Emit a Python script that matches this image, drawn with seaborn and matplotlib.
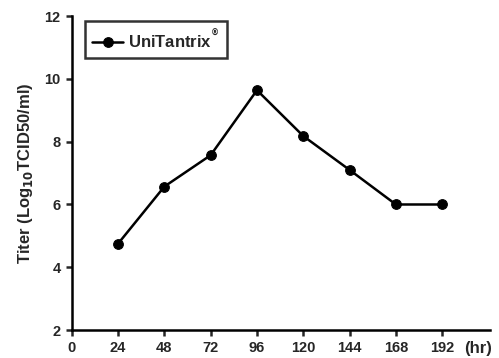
import matplotlib
matplotlib.use("Agg")
import matplotlib.pyplot as plt
import seaborn as sns
import pandas as pd

hours = [24, 48, 72, 96, 120, 144, 168, 192]
titer = [4.75, 6.57, 7.57, 9.64, 8.18, 7.1, 6.0, 6.0]
xticks = [0, 24, 48, 72, 96, 120, 144, 168, 192]
yticks = [2, 4, 6, 8, 10, 12]

sns.set_theme(style="ticks")
plt.rcParams['font.family'] = ['Liberation Sans', 'DejaVu Sans']
plt.rcParams['font.weight'] = 'bold'

df = pd.DataFrame({"hr": hours, "titer": titer})

fig = plt.figure(figsize=(4.99, 3.58), dpi=100)
ax = fig.add_axes([0.1437, 0.078, 0.8373, 0.877])
sns.lineplot(data=df, x="hr", y="titer", ax=ax, color="black", marker="o",
             markersize=7, linewidth=1.8, markeredgecolor="black",
             label="UniTantrix$^{^{®}}$")

ax.set_xlim(0, 216.5)
ax.set_ylim(2, 12)
ax.set_xticks(xticks)
ax.set_yticks(yticks)
ax.tick_params(direction="out", length=4, width=1.8, labelsize=10.5, pad=4)
for lab in ax.get_xticklabels() + ax.get_yticklabels():
    lab.set_fontweight("bold")
for s in ["left", "bottom"]:
    ax.spines[s].set_linewidth(1.8)
    ax.spines[s].set_color("black")
sns.despine(ax=ax)
ax.set_xlabel("")
ax.set_ylabel("Titer (Log$_{\\mathbf{10}}$TCID50/ml)", fontsize=12, fontweight="bold", labelpad=7)
ax.text(0.972, -0.058, "(hr)", transform=ax.transAxes, ha="center", va="center",
        fontsize=12, fontweight="bold")

leg = ax.legend(loc="upper left", bbox_to_anchor=(0.02, 1.0), frameon=True, fancybox=False,
                handlelength=1.9, handletextpad=0.3, borderpad=0.4, borderaxespad=0.3,
                prop={"weight": "bold", "size": 12})
leg.get_frame().set_edgecolor("black")
leg.get_frame().set_linewidth(1.8)

fig.savefig("out.png", dpi=100)
